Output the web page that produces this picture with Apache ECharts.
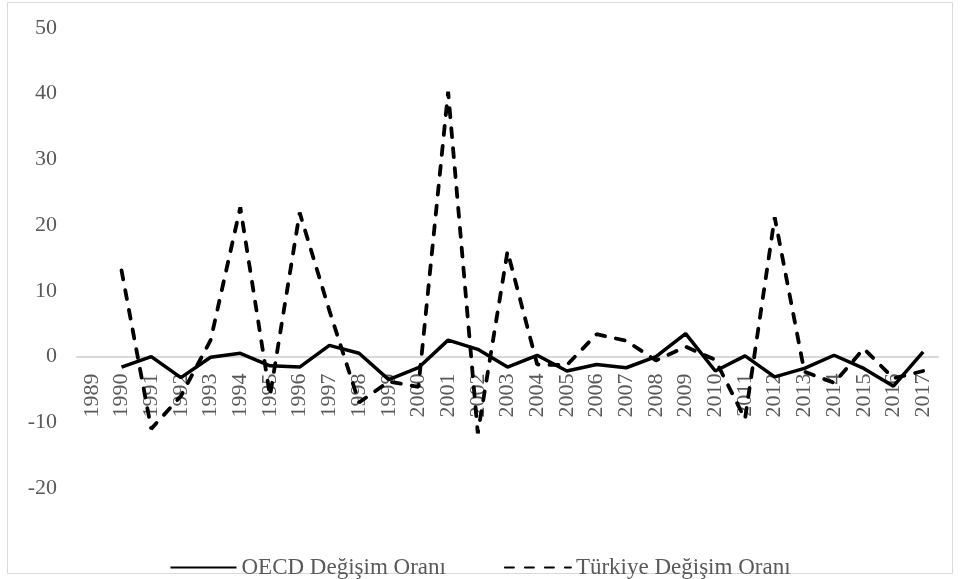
<!DOCTYPE html>
<html>
<head>
<meta charset="utf-8">
<script src="https://cdn.jsdelivr.net/npm/echarts@6/dist/echarts.min.js"></script>
<style>
    html, body { margin: 0; padding: 0; background: #fff; }
    #chart { width: 960px; height: 579px; }
</style>
</head>
<body>
<div id="chart"></div>
<script>
//years on the category axis
var years = ['1989', '1990', '1991', '1992', '1993', '1994', '1995', '1996', '1997', '1998',
    '1999', '2000', '2001', '2002', '2003', '2004', '2005', '2006', '2007', '2008',
    '2009', '2010', '2011', '2012', '2013', '2014', '2015', '2016', '2017'];
//OECD change rate (no value for 1989)
var oecd = [null, -1.6, 0, -3.2, -0.1, 0.5, -1.4, -1.6, 1.7, 0.5,
    -3.5, -1.7, 2.5, 1.1, -1.6, 0.2, -2.2, -1.2, -1.7, 0,
    3.5, -2.2, 0.1, -3.1, -1.8, 0.2, -1.8, -4.5, 0.7];
//Turkey change rate
var turkiye = [null, 13.1, -11, -6, 2.5, 22.7, -6, 21.9, 7, -7,
    -3.8, -4.6, 40.3, -11.7, 16, -1.2, -1.3, 3.4, 2.4, -0.6,
    1.5, -0.5, -9.5, 21.2, -2.3, -4, 1.2, -3.3, -2.2];
var seriesNames = ['OECD Değişim Oranı', 'Türkiye Değişim Oranı'];
var yTicks = { min: -20, max: 50, step: 10 };

var font = 'Liberation Serif';
var grey = '#595959';
var gridTop = 28, gridBottom = 91;
var plotH = 579 - gridTop - gridBottom;
//move the category axis up to the zero line (labels go with it)
var zeroOffset = plotH * (0 - yTicks.min) / (yTicks.max - yTicks.min);

var chart = echarts.init(document.getElementById('chart'));
var option = {
    backgroundColor: '#fff',
    animation: false,
    //chart area border
    graphic: [{
        type: 'rect',
        shape: { x: 7.5, y: 2.5, width: 945, height: 571 },
        style: { fill: 'none', stroke: '#d9d9d9', lineWidth: 1 }
    }],
    grid: { left: 77, right: 22, top: gridTop, bottom: gridBottom },
    legend: {
        top: 551,
        left: 'center',
        itemGap: 58,
        itemWidth: 66,
        itemHeight: 14,
        itemStyle: { opacity: 0 },
        textStyle: { color: grey, fontFamily: font, fontSize: 23 },
        data: seriesNames
    },
    xAxis: {
        type: 'category',
        data: years,
        boundaryGap: true,
        offset: -zeroOffset,
        axisLine: { onZero: false, lineStyle: { color: '#d9d9d9', width: 2 } },
        axisTick: { show: false },
        axisLabel: {
            rotate: 90, margin: 17, interval: 0,
            color: grey, fontFamily: font, fontSize: 22
        }
    },
    yAxis: {
        type: 'value',
        min: yTicks.min,
        max: yTicks.max,
        interval: yTicks.step,
        splitLine: { show: false },
        axisLine: { show: false },
        axisTick: { show: false },
        axisLabel: { margin: 20, color: grey, fontFamily: font, fontSize: 22 }
    },
    series: [
        {
            name: seriesNames[0], type: 'line', data: oecd,
            symbol: 'none', color: '#000',
            lineStyle: { color: '#000', width: 3.5 }
        },
        {
            name: seriesNames[1], type: 'line', data: turkiye,
            symbol: 'none', color: '#000',
            lineStyle: { color: '#000', width: 3.8, type: [9, 11], cap: 'round' }
        }
    ]
};
chart.setOption(option);
</script>
</body>
</html>
